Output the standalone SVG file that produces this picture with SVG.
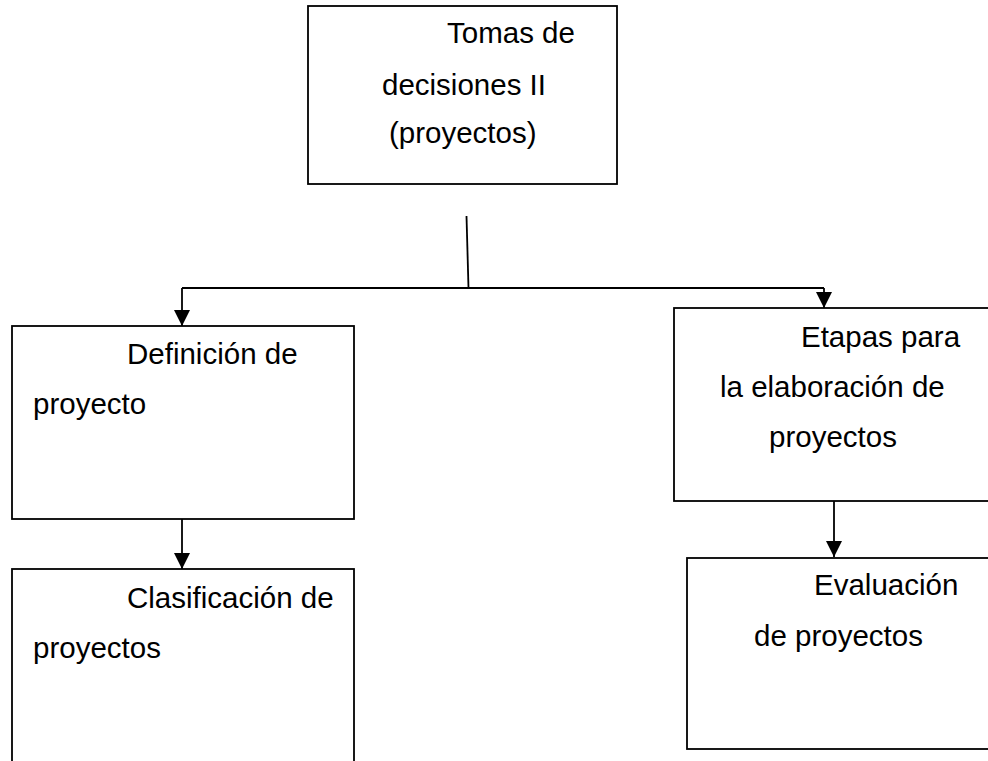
<svg xmlns="http://www.w3.org/2000/svg" width="988" height="761" viewBox="0 0 988 761">
  <style>
    .box { fill: #ffffff; stroke: #000000; stroke-width: 1.8; }
    .lbl { font-family: "Liberation Sans", Arial, sans-serif; font-size: 29.5px; fill: #000000; }
    .conn { fill: none; stroke: #000000; stroke-width: 1.8; }
  </style>
  <defs>
    <marker id="arrow" markerUnits="userSpaceOnUse" markerWidth="16" markerHeight="16" viewBox="0 0 16 16" refX="16" refY="8" orient="auto">
      <path d="M0,0 L16,8 L0,16 z" fill="#000000"/>
    </marker>
  </defs>
  <rect width="988" height="761" fill="#ffffff"/>

  <g id="connectors">
    <path class="conn" d="M466.5,216 L468.5,288"/>
    <path class="conn" d="M182,288 H824"/>
    <path class="conn" d="M182,288 V326" marker-end="url(#arrow)"/>
    <path class="conn" d="M824,288 V308" marker-end="url(#arrow)"/>
    <path class="conn" d="M182,519 V569" marker-end="url(#arrow)"/>
    <path class="conn" d="M834,501 V557" marker-end="url(#arrow)"/>
  </g>

  <g id="node-tomas">
    <rect class="box" x="308" y="6" width="309" height="178"/>
    <text class="lbl" x="447" y="43">Tomas de</text>
    <text class="lbl" x="382" y="95">decisiones II</text>
    <text class="lbl" x="389" y="143">(proyectos)</text>
  </g>

  <g id="node-definicion">
    <rect class="box" x="12" y="326" width="342" height="193"/>
    <text class="lbl" x="127" y="364">Definición de</text>
    <text class="lbl" x="33" y="414">proyecto</text>
  </g>

  <g id="node-clasificacion">
    <rect class="box" x="12" y="569" width="342" height="230"/>
    <text class="lbl" x="127" y="608">Clasificación de</text>
    <text class="lbl" x="33" y="658">proyectos</text>
  </g>

  <g id="node-etapas">
    <rect class="box" x="674" y="308" width="330" height="193"/>
    <text class="lbl" x="801" y="347">Etapas para</text>
    <text class="lbl" x="720" y="397">la elaboración de</text>
    <text class="lbl" x="769" y="447">proyectos</text>
  </g>

  <g id="node-evaluacion">
    <rect class="box" x="687" y="558" width="320" height="191"/>
    <text class="lbl" x="814" y="595">Evaluación</text>
    <text class="lbl" x="754" y="646">de proyectos</text>
  </g>
</svg>
